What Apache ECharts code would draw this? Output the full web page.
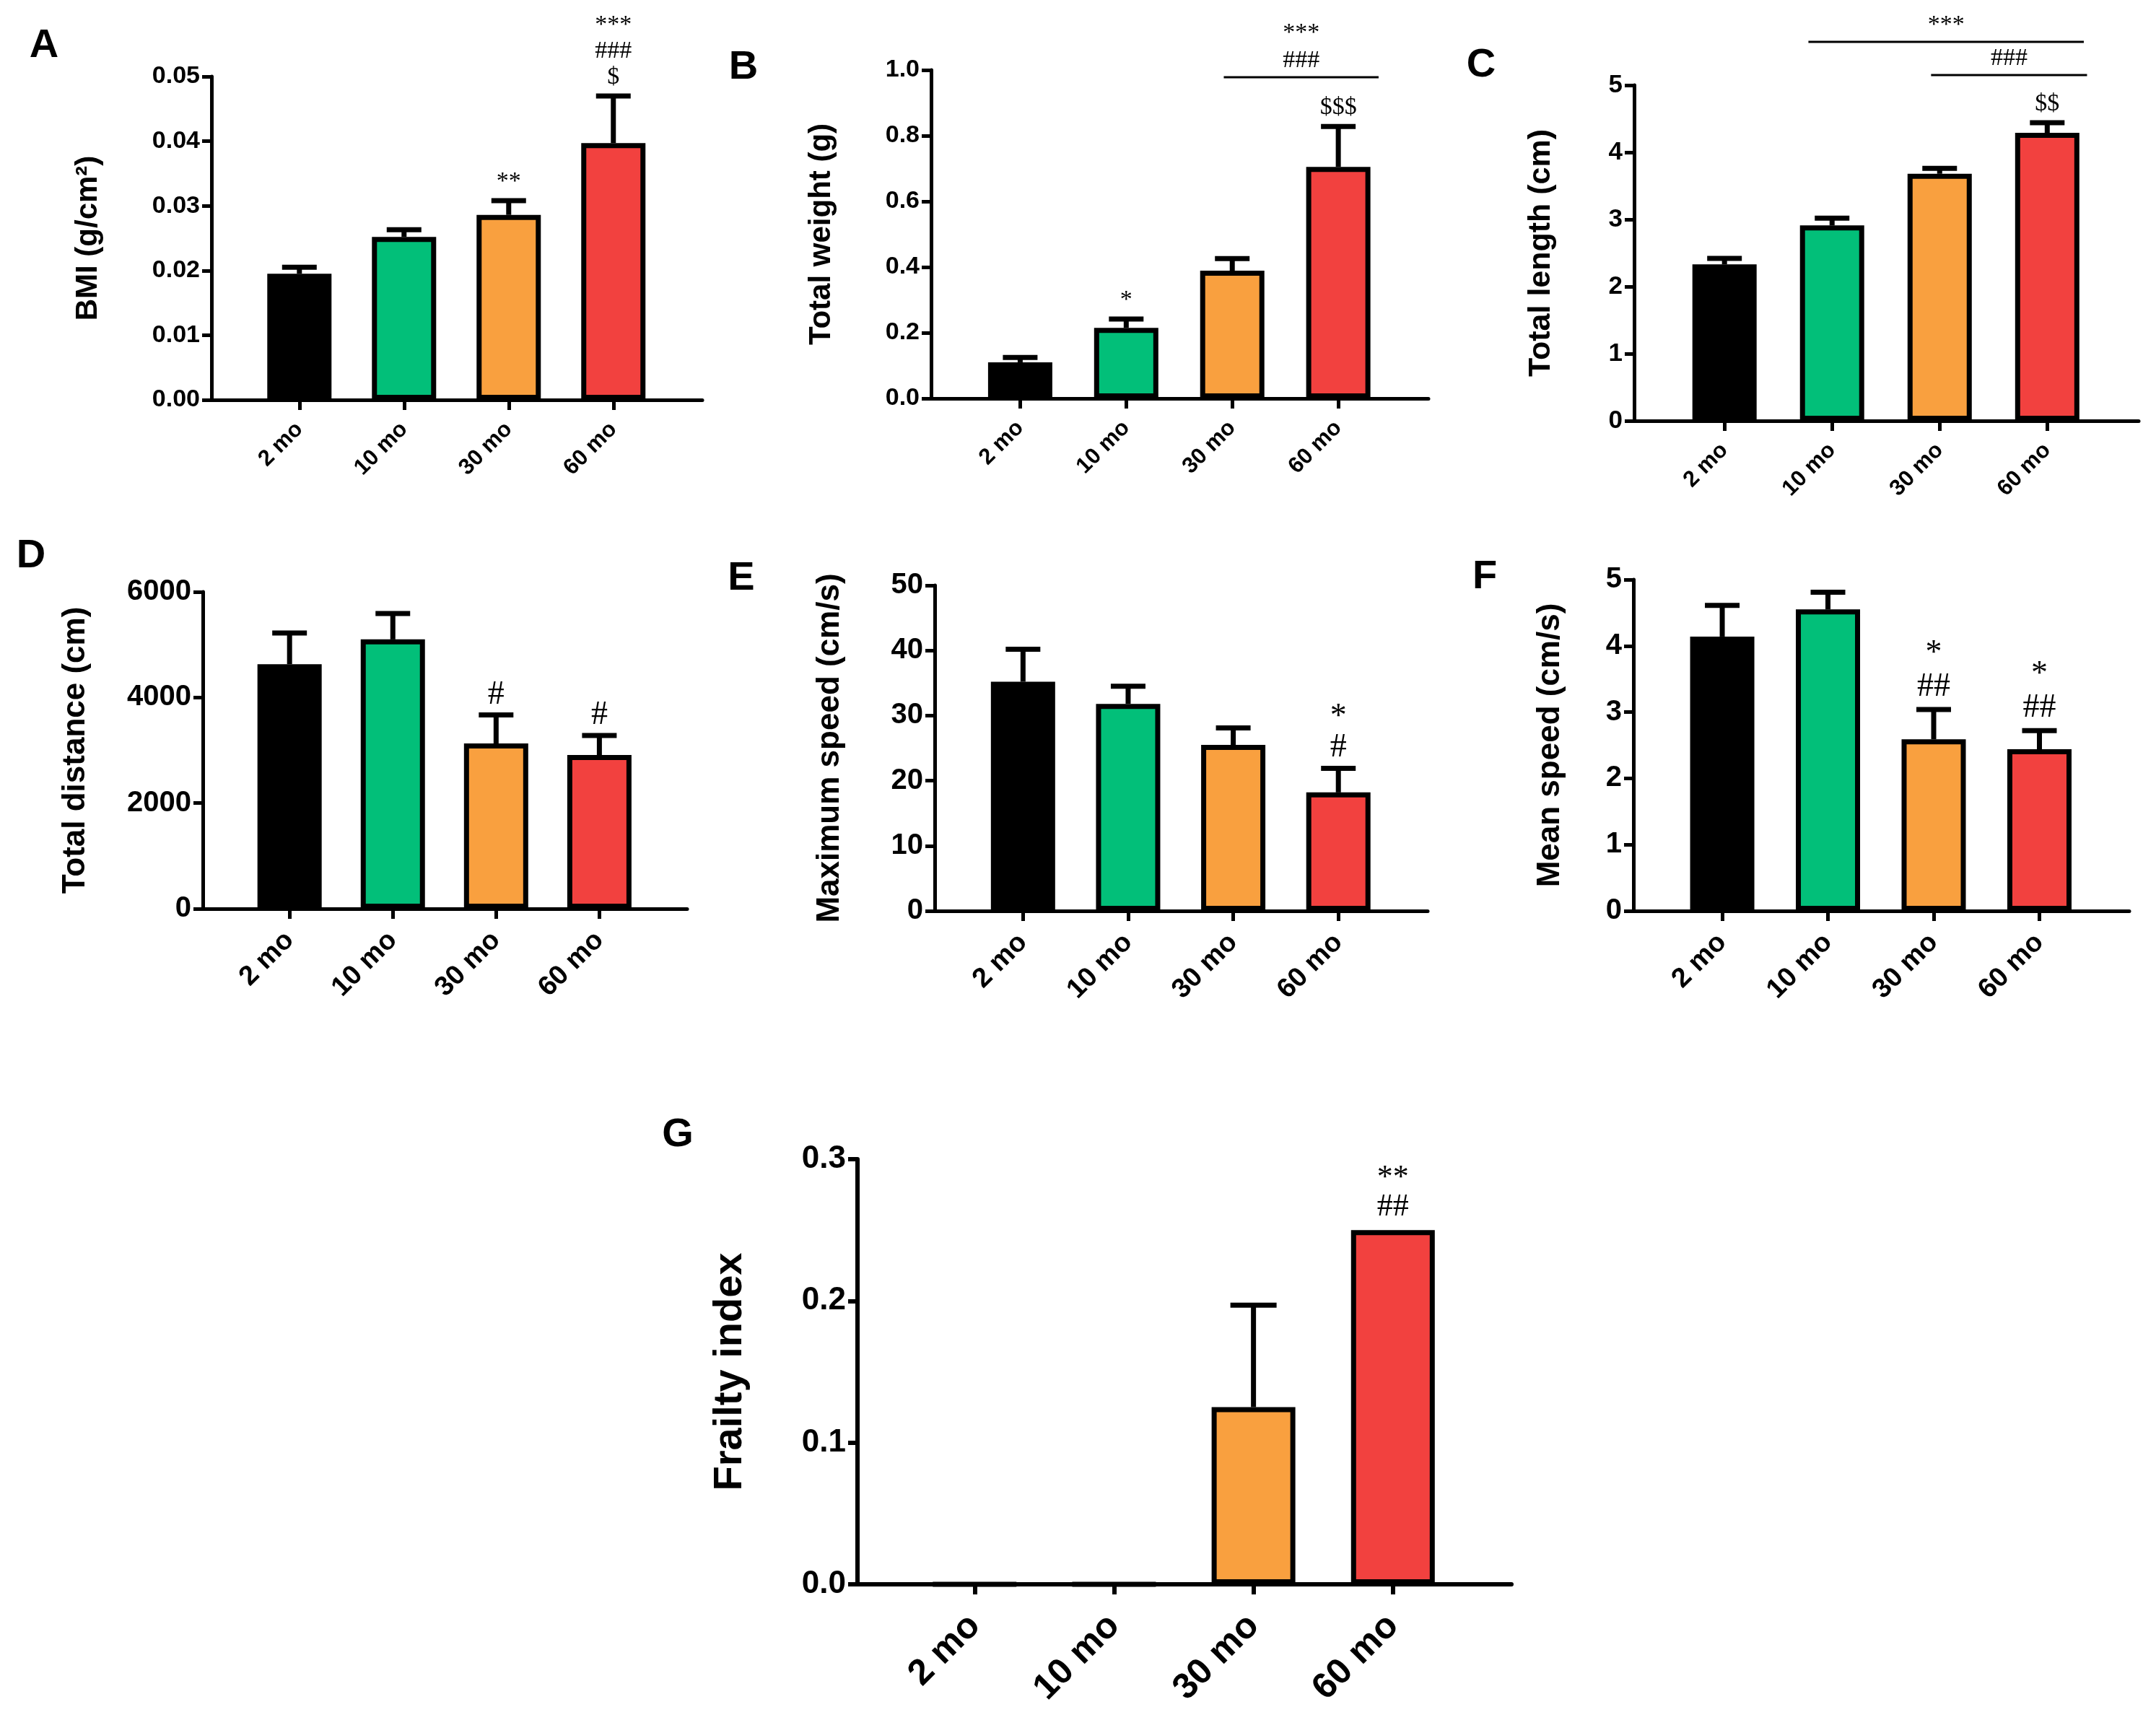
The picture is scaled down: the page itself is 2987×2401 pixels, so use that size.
<!DOCTYPE html>
<html>
<head>
<meta charset="utf-8">
<script src="https://cdn.jsdelivr.net/npm/echarts@6/dist/echarts.min.js"></script>
<style>
html,body{margin:0;padding:0;background:#ffffff;}
#c{width:2987px;height:2401px;}
</style>
</head>
<body>
<div id="c"></div>
<script>
// ---------------- DATA ----------------
const categories = ['2 mo', '10 mo', '30 mo', '60 mo'];
const barColors = ['#000000', '#02BF79', '#F9A03F', '#F2413F'];

const bmiMean = [0.0195, 0.0252, 0.0286, 0.0397];
const bmiErr = [0.0010, 0.0011, 0.0022, 0.0073];
const bmiMarks = ['', '', '**', '***\n###\n$'];

const weightMean = [0.110, 0.215, 0.389, 0.705];
const weightErr = [0.015, 0.027, 0.037, 0.123];
const weightMarks = ['', '*', '', '$$$'];
const weightBrackets = [[1.92, 3.38, 0.978, '***\n###']];

const lengthMean = [2.33, 2.91, 3.68, 4.29];
const lengthErr = [0.09, 0.11, 0.08, 0.15];
const lengthMarks = ['', '', '', '$$'];
const lengthBrackets = [[0.78, 3.34, 5.645, '***'], [1.92, 3.37, 5.15, '###']];

const distanceMean = [4630, 5100, 3130, 2910];
const distanceErr = [590, 490, 540, 370];
const distanceMarks = ['', '', '#', '#'];

const maxSpeedMean = [35.2, 31.8, 25.5, 18.2];
const maxSpeedErr = [5.0, 2.7, 2.6, 3.7];
const maxSpeedMarks = ['', '', '', '*\n#'];

const meanSpeedMean = [4.14, 4.55, 2.59, 2.44];
const meanSpeedErr = [0.47, 0.26, 0.45, 0.28];
const meanSpeedMarks = ['', '', '*\n##', '*\n##'];

const frailtyMean = [0, 0, 0.125, 0.25];
const frailtyErr = [0, 0, 0.072, 0];
const frailtyMarks = ['', '', '', '**\n##'];

// ---------------- LAYOUT ----------------
const SANS = '"Liberation Sans", Arial, sans-serif';
const SERIF = '"Liberation Serif", "Times New Roman", serif';

const panels = [
  {letter:'A', lx:61, ly:64, mean:bmiMean, err:bmiErr, marks:bmiMarks, brackets:[], yMax:0.05, yInt:0.01, dec:2,
   yName:'BMI (g/cm²)', left:293, top:106, width:680, height:448, gap:150, titleFs:42, tickFs:34, xFs:31, xMargin:36,
   barW:89, cap:24, axW:5, markFs:34, markLh:36, markGap:8},
  {letter:'B', lx:1030, ly:94, mean:weightMean, err:weightErr, marks:weightMarks, brackets:weightBrackets, yMax:1.0, yInt:0.2, dec:1,
   yName:'Total weight (g)', left:1290, top:97, width:689, height:455, gap:131, titleFs:42, tickFs:34, xFs:31, xMargin:36,
   barW:89, cap:24, axW:5, markFs:34, markLh:36, markGap:8},
  {letter:'C', lx:2052, ly:91, mean:lengthMean, err:lengthErr, marks:lengthMarks, brackets:lengthBrackets, yMax:5, yInt:1, dec:0,
   yName:'Total length (cm)', left:2264, top:118, width:699, height:465, gap:107, titleFs:43, tickFs:35, xFs:31, xMargin:36,
   barW:89, cap:24, axW:5, markFs:34, markLh:36, markGap:8},
  {letter:'D', lx:43, ly:771, mean:distanceMean, err:distanceErr, marks:distanceMarks, brackets:[], yMax:6000, yInt:2000, dec:0,
   yName:'Total distance (cm)', left:281, top:820, width:671, height:439, gap:154, titleFs:44, tickFs:40, xFs:38, xMargin:38,
   barW:89, cap:24, axW:5, markFs:46, markLh:44, markGap:6},
  {letter:'E', lx:1027, ly:802, mean:maxSpeedMean, err:maxSpeedErr, marks:maxSpeedMarks, brackets:[], yMax:50, yInt:10, dec:0,
   yName:'Maximum speed (cm/s)', left:1295, top:811, width:683, height:451, gap:123, titleFs:44, tickFs:40, xFs:38, xMargin:38,
   barW:89, cap:24, axW:5, markFs:46, markLh:42, markGap:8},
  {letter:'F', lx:2057, ly:800, mean:meanSpeedMean, err:meanSpeedErr, marks:meanSpeedMarks, brackets:[], yMax:5, yInt:1, dec:0,
   yName:'Mean speed (cm/s)', left:2263, top:803, width:687, height:459, gap:93, titleFs:44, tickFs:40, xFs:38, xMargin:38,
   barW:89, cap:24, axW:5, markFs:46, markLh:46, markGap:8},
  {letter:'G', lx:939, ly:1573, mean:frailtyMean, err:frailtyErr, marks:frailtyMarks, brackets:[], yMax:0.3, yInt:0.1, dec:1,
   yName:'Frailty index', left:1188, top:1606, width:906, height:589, gap:148, titleFs:56, tickFs:44, xFs:50, xMargin:50,
   barW:116, cap:32, axW:6, markFs:44, markLh:40, markGap:12}
];

const catIdx = categories.map((c, i) => i);
const grid = [], xAxis = [], yAxis = [], series = [], graphic = [];

panels.forEach((p, i) => {
  grid.push({left:p.left, top:p.top, width:p.width, height:p.height, containLabel:false, outerBoundsMode:'none'});
  const lineStyle = {color:'#000', width:p.axW};
  xAxis.push({
    gridIndex:i, type:'value', min:-0.84, max:3.85,
    axisLine:{show:true, onZero:false, lineStyle:lineStyle},
    axisTick:{show:true, customValues:catIdx, length:14, lineStyle:lineStyle},
    axisLabel:{show:true, customValues:catIdx, formatter:(v) => categories[Math.round(v)] || '',
      rotate:45, fontSize:p.xFs, fontWeight:'bold', fontFamily:SANS, color:'#000', margin:p.xMargin},
    splitLine:{show:false}
  });
  yAxis.push({
    gridIndex:i, type:'value', min:0, max:p.yMax, interval:p.yInt,
    axisLine:{show:true, onZero:false, lineStyle:lineStyle},
    axisTick:{show:true, length:13, lineStyle:lineStyle},
    axisLabel:{show:true, formatter:(v) => v.toFixed(p.dec), fontSize:p.tickFs, fontWeight:'bold',
      fontFamily:SANS, color:'#000', margin:16},
    splitLine:{show:false},
    name:p.yName, nameLocation:'middle', nameGap:p.gap, nameRotate:90,
    nameTextStyle:{fontSize:p.titleFs, fontWeight:'bold', fontFamily:SANS, color:'#000', lineHeight:p.titleFs}
  });
  series.push({
    type:'bar', xAxisIndex:i, yAxisIndex:i, barWidth:p.barW, silent:true, animation:false,
    data: categories.map((c, j) => ({value:[j, p.mean[j]], itemStyle:{color:barColors[j], borderColor:'#000', borderWidth:7}}))
  });
  series.push({
    type:'custom', xAxisIndex:i, yAxisIndex:i, silent:true, animation:false, clip:false,
    data: categories.map((c, j) => [j, p.mean[j], p.err[j], p.marks[j]]),
    renderItem: (params, api) => {
      const j = params.dataIndex;
      const x = api.value(0), m = api.value(1), e = api.value(2);
      const p0 = api.coord([x, m]);
      const p1 = api.coord([x, m + e]);
      const children = [];
      if (e > 0) {
        children.push({type:'line', shape:{x1:p0[0], y1:p0[1], x2:p1[0], y2:p1[1]}, style:{stroke:'#000', lineWidth:7}});
        children.push({type:'line', shape:{x1:p1[0] - p.cap, y1:p1[1], x2:p1[0] + p.cap, y2:p1[1]}, style:{stroke:'#000', lineWidth:7}});
      }
      const txt = p.marks[j];
      if (txt) {
        children.push({type:'text', x:p1[0], y:p1[1] - p.markGap,
          style:{text:txt, fill:'#000', font:p.markFs + 'px ' + SERIF, lineHeight:p.markLh,
            align:'center', verticalAlign:'bottom', textAlign:'center', textVerticalAlign:'bottom'}});
      }
      return {type:'group', children:children};
    }
  });
  if (p.brackets.length) {
    series.push({
      type:'custom', xAxisIndex:i, yAxisIndex:i, silent:true, animation:false, clip:false,
      data: p.brackets,
      renderItem: (params, api) => {
        const b = p.brackets[params.dataIndex];
        const a = api.coord([b[0], b[2]]);
        const c = api.coord([b[1], b[2]]);
        return {type:'group', children:[
          {type:'line', shape:{x1:a[0], y1:a[1], x2:c[0], y2:c[1]}, style:{stroke:'#000', lineWidth:3}},
          {type:'text', x:(a[0] + c[0]) / 2, y:a[1] - 4,
           style:{text:b[3], fill:'#000', font:'34px ' + SERIF, lineHeight:38,
             align:'center', verticalAlign:'bottom', textAlign:'center', textVerticalAlign:'bottom'}}
        ]};
      }
    });
  }
  graphic.push({type:'text', x:p.lx, y:p.ly,
    style:{text:p.letter, fill:'#000', font:'bold 56px ' + SANS, align:'center', verticalAlign:'middle',
      textAlign:'center', textVerticalAlign:'middle'}});
});

const chart = echarts.init(document.getElementById('c'), null, {renderer:'canvas'});
chart.setOption({
  backgroundColor:'#ffffff',
  animation:false,
  grid:grid, xAxis:xAxis, yAxis:yAxis, series:series, graphic:graphic
});
</script>
</body>
</html>
